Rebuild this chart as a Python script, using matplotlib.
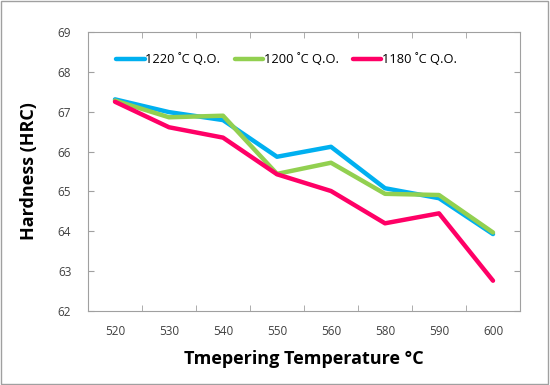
import numpy as np
import matplotlib.pyplot as plt
from matplotlib.patches import Rectangle

plt.rcParams['font.family'] = ['Open Sans', 'DejaVu Sans']

# Data
temps = ['520', '530', '540', '550', '560', '580', '590', '600']
hrc_1220 = [67.31, 66.99, 66.79, 65.87, 66.12, 65.08, 64.83, 63.93]
hrc_1200 = [67.28, 66.86, 66.90, 65.44, 65.72, 64.94, 64.91, 63.97]
hrc_1180 = [67.25, 66.61, 66.35, 65.43, 65.01, 64.20, 64.45, 62.76]
y_ticks = [62, 63, 64, 65, 66, 67, 68, 69]

fig = plt.figure(figsize=(5.5, 3.85), dpi=100)
ax = fig.add_axes([88/550, 1-311/385, 432/550, 279/385])

x = np.arange(len(temps))
ax.plot(x, hrc_1220, color='#00B0F0', lw=3.2, label='1220 ˚C Q.O.', solid_capstyle='round')
ax.plot(x, hrc_1200, color='#92D050', lw=3.2, label='1200 ˚C Q.O.', solid_capstyle='round')
ax.plot(x, hrc_1180, color='#FF0066', lw=3.2, label='1180 ˚C Q.O.', solid_capstyle='round')

ax.set_xlim(-0.5, len(temps) - 0.5)
ax.set_ylim(62, 69)
ax.set_yticks(y_ticks)
ax.set_xticks(x)
ax.set_xticklabels(temps)
ax.set_xticks(np.arange(len(temps) + 1) - 0.5, minor=True)
ax.tick_params(axis='x', which='major', length=0, pad=10, labelsize=8.5, colors='#404040')
ax.tick_params(axis='x', which='minor', length=4, direction='in', top=True, color='#A0A0A0')
ax.tick_params(axis='y', length=4, direction='in', right=True, labelsize=8.5,
               colors='#404040', pad=12)
ax.tick_params(axis='both', color='#A0A0A0')
for s in ax.spines.values():
    s.set_color('#A0A0A0')

ax.set_xlabel('Tmepering Temperature °C', fontsize=13, fontweight='bold', labelpad=9)
ax.set_ylabel('Hardness (HRC)', fontsize=13, fontweight='bold', labelpad=14)

ax.legend(loc='upper center', bbox_to_anchor=(0.46, 0.965), ncol=3, frameon=False,
          fontsize=9.3, handlelength=2.2, handletextpad=0.05, columnspacing=1.1)

fig.patches.append(Rectangle((0.002, 0.003), 0.995, 0.994, transform=fig.transFigure,
                             fill=False, edgecolor='#A0A0A0', lw=1))

plt.savefig('out.png', dpi=100)
